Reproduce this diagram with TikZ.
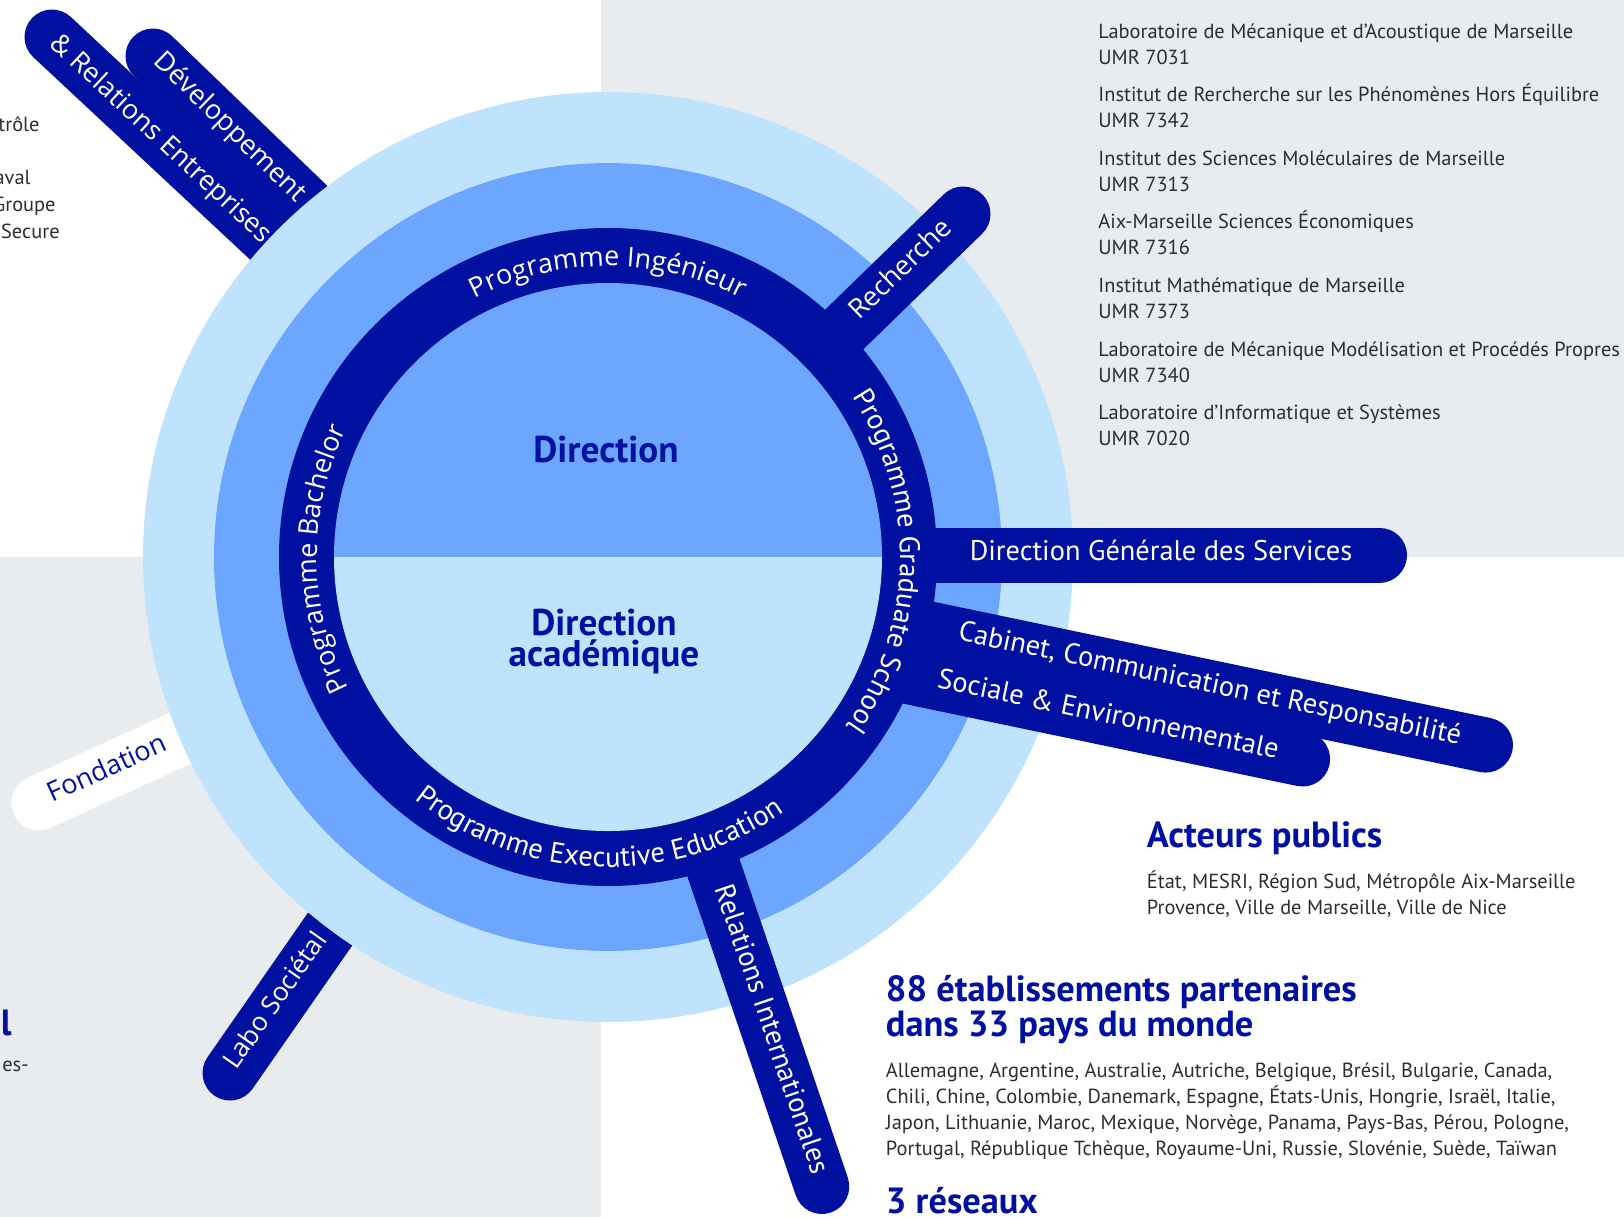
\documentclass[tikz,border=0pt]{standalone}
\usepackage{fontspec}
\setmainfont{PT Sans}
\newfontfamily\roundsans{Open Sans}
\usepackage{tikz}
\usetikzlibrary{decorations.text}
\usetikzlibrary{positioning}

\definecolor{navy}{RGB}{0,16,160}
\definecolor{midblue}{RGB}{108,166,254}
\definecolor{paleblue}{RGB}{192,227,253}
\definecolor{panel}{RGB}{232,236,239}
\definecolor{ink}{RGB}{45,45,45}

\newcommand{\labfont}{\fontsize{10.2}{13}\selectfont}
\newcommand{\headfont}{\fontsize{18.2}{17.5}\selectfont\bfseries}
\newcommand{\dirfont}{\fontsize{18.6}{15.5}\selectfont\bfseries}
\newcommand{\armfont}{\fontsize{14.2}{16}\selectfont}
\newcommand{\softarmfont}{\roundsans\fontsize{13.5}{15}\selectfont}
\newcommand{\ringfont}{\fontsize{14.3}{16}\selectfont}
\newcommand{\softringfont}{\roundsans\fontsize{13.5}{15}\selectfont}

\tikzstyle{arm} = [line width=27.5pt, line cap=round, draw=navy]
\tikzstyle{armlabel} = [inner sep=0, text=white, font=\armfont, anchor=mid]
\tikzstyle{softlabel} = [inner sep=0, text=white, font=\softarmfont, anchor=mid]
\tikzstyle{labtext} = [inner sep=0, anchor=base west, text=ink, font=\labfont]
\tikzstyle{heading} = [inner sep=0, anchor=base west, text=navy, font=\headfont]
\tikzstyle{ringtext} = [decorate, decoration={text along path, text align=center}]

\begin{document}
\begin{tikzpicture}[x=0.5pt, y=0.5pt]
  \useasboundingbox (0,0) rectangle (1624,-1217);
  \fill[white] (0,0) rectangle (1624,-1217);
  \fill[panel] (601,0) rectangle (1624,-557);
  \fill[panel] (0,-557) rectangle (601,-1217);

  \coordinate (c) at (608,-557);

  % arms under the outer ring
  \draw[arm] (52,-37) -- (490,-446);
  \draw[arm] (153,-56) -- (513,-403);
  \draw[arm, draw=white] (38.7,-803) -- (448,-616);
  \draw[arm] (230,-1073) -- (445,-764);

  % rings
  \fill[paleblue] (c) circle (465);
  \fill[midblue] (c) circle (394);
  \fill[navy] (c) circle (329);

  % arms on top of the rings
  \draw[arm] (820,-353) -- (963,-214);
  \draw[arm] (900,-555) -- (1379.5,-555);
  \draw[arm] (882,-671.1) -- (1302.6,-759);
  \draw[arm] (892.3,-621.2) -- (1485.5,-745.1);
  \draw[arm] (703,-837) -- (821.8,-1186.5);

  % inner disc, two halves
  \fill[midblue] ([shift={(0:274)}]c) arc[start angle=0, end angle=180, radius=274] -- cycle;
  \fill[paleblue] ([shift={(180:274)}]c) arc[start angle=180, end angle=360, radius=274] -- cycle;

  \node[font=\dirfont, text=navy] (direction) at (606,-450) {Direction};
  \node[font=\dirfont, text=navy, align=center] (academique) at (604,-641) {Direction\\académique};

  % programmes around the ring
  \path[ringtext, decoration={text={|\softringfont\color{white}|Programme Ingénieur}}]
    ([shift={(125:291)}]c) arc[start angle=125, end angle=55, radius=291];
  \path[ringtext, decoration={text={|\ringfont\color{white}|Programme Graduate School}}]
    ([shift={(40:292)}]c) arc[start angle=40, end angle=-42, radius=292];
  \path[ringtext, decoration={text={|\ringfont\color{white}|Programme Executive Education}}]
    ([shift={(226:310)}]c) arc[start angle=226, end angle=310, radius=310];
  \path[ringtext, decoration={text={|\softringfont\color{white}|Programme Bachelor}}]
    ([shift={(216:291)}]c) arc[start angle=216, end angle=145, radius=291];

  % arm labels
  \node[softlabel, rotate=-44.3] (dev) at (228,-129.3) {Développement};
  \node[softlabel, rotate=-43] (entreprises) at (159,-141) {\& Relations Entreprises};
  \node[softlabel, rotate=24.5, text=navy] (fondation) at (108.7,-771.6) {Fondation};
  \node[softlabel, rotate=55, font=\roundsans\fontsize{13}{15}\selectfont] (labo) at (278,-1002.5) {Labo Sociétal};
  \node[softlabel, rotate=44] (recherche) at (903,-271.7) {Recherche};
  \node[armlabel] (dgs) at (1161,-555) {Direction Générale des Services};
  \node[armlabel, anchor=mid west, rotate=-11.8] (cabinet) at (958,-635) {Cabinet, Communication et Responsabilité};
  \node[armlabel, anchor=mid west, rotate=-11.8] (sociale) at (937,-682.6) {Sociale \& Environnementale};
  \node[armlabel, rotate=-71.2] (ri) at (768.5,-1030.5) {Relations Internationales};

  % research units
  \foreach \lab/\umr [count=\i from 0] in {
      Laboratoire de Mécanique et d’Acoustique de Marseille/7031,
      Institut de Rercherche sur les Phénomènes Hors Équilibre/7342,
      Institut des Sciences Moléculaires de Marseille/7313,
      Aix-Marseille Sciences Économiques/7316,
      Institut Mathématique de Marseille/7373,
      Laboratoire de Mécanique Modélisation et Procédés Propres/7340,
      Laboratoire d'Informatique et Systèmes/7020}
  {
    \node[labtext] (lab\i) at (1098,{-38-63.6*\i}) {\lab};
    \node[labtext] (umr\i) at (1098,{-64-63.6*\i}) {UMR \umr};
  }

  % multi-line nodes sit on the baseline of their last line
  \node[heading] (acteurs) at (1146.5,-847) {Acteurs publics};
  \node[labtext, align=left] (acteursliste) at (1146.5,-914.5)
    {État, MESRI, Région Sud, Métropôle Aix-Marseille\\Provence, Ville de Marseille, Ville de Nice};

  \node[heading, align=left] (partenaires) at (885.5,-1036.5)
    {88 établissements partenaires\\dans 33 pays du monde};
  \node[labtext, align=left] (pays) at (885.5,-1155)
    {Allemagne, Argentine, Australie, Autriche, Belgique, Brésil, Bulgarie, Canada,\\
     Chili, Chine, Colombie, Danemark, Espagne, États-Unis, Hongrie, Israël, Italie,\\
     Japon, Lithuanie, Maroc, Mexique, Norvège, Panama, Pays-Bas, Pérou, Pologne,\\
     Portugal, République Tchèque, Royaume-Uni, Russie, Slovénie, Suède, Taïwan};
  \node[heading] (reseaux) at (885.5,-1213) {3 réseaux};

  % cut-off text at the left edge
  \node[labtext] (left1) at (-2,-131.5) {trôle};
  \node[labtext, anchor=base east] (left2) at (31,-184) {aval};
  \node[labtext, anchor=base east] (left3) at (56,-211) {Groupe};
  \node[labtext, anchor=base east] (left4) at (60,-238) {Secure};
  \node[heading, anchor=base east] (left5) at (12,-1035) {al};
  \node[labtext, anchor=base east] (left6) at (29,-1071) {es-};
\end{tikzpicture}
\end{document}
